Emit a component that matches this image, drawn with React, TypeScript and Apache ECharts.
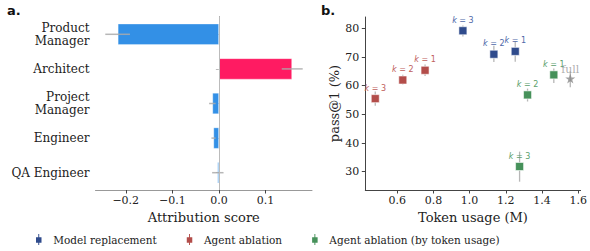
import React, { useEffect, useRef } from "react";
import * as echarts from "echarts";

// Panel a: attribution scores
const roles = ["Product\nManager", "Architect", "Project\nManager", "Engineer", "QA Engineer"];
const attribution = [-0.217, 0.157, -0.0138, -0.0116, -0.003];
const attributionErrLo = [-0.244, 0.135, -0.021, -0.016, -0.0145];
const attributionErrHi = [-0.191, 0.18, -0.007, -0.007, 0.01];
const attrTicks = [-0.2, -0.1, 0.0, 0.1];

// Panel b: pass@1 vs token usage
const modelRepK = ["3", "2", "1"];
const modelRepTokens = [0.963, 1.134, 1.252];
const modelRepPass = [79.2, 71.0, 72.0];
const modelRepLo = [77.2, 68.3, 68.4];
const modelRepHi = [81.0, 74.0, 75.5];

const ablK = ["3", "2", "1"];
const ablTokens = [0.479, 0.631, 0.754];
const ablPass = [55.5, 62.0, 65.4];
const ablLo = [53.0, 60.4, 63.4];
const ablHi = [58.0, 63.8, 67.4];

const ablTokK = ["3", "2", "1"];
const ablTokTokens = [1.276, 1.32, 1.465];
const ablTokPass = [31.8, 56.8, 63.8];
const ablTokLo = [26.5, 54.5, 61.0];
const ablTokHi = [37.0, 59.0, 66.0];

const fullTokens = [1.556];
const fullPass = [62.5];
const fullLo = [59.5];
const fullHi = [65.0];

const tokenTicks = [0.6, 0.8, 1.0, 1.2, 1.4, 1.6];
const passTicks = [30, 40, 50, 60, 70, 80];

const SERIF = "'DejaVu Serif', 'Liberation Serif', serif";
const SANS = "'DejaVu Sans', sans-serif";
const AXIS = "#444";

const legendIcon = "path://M4.4,0H5.6V14H4.4Z M1.5,4H8.5V11H1.5Z";
const starPath =
  "path://M50,0 L61.8,35.1 L98.9,35.1 L68.8,57 L80.3,92.1 L50,70.4 L19.7,92.1 L31.2,57 L1.1,35.1 L38.2,35.1 Z";

export default function App() {
  const ref = useRef<HTMLDivElement>(null);
  useEffect(() => {
    if (!ref.current) return;
    const chart = echarts.init(ref.current, undefined, { renderer: "svg" });

    const errBarsH = roles.map((_, i) => [attributionErrLo[i], attributionErrHi[i], i]);
    const mkV = (xs: number[], lo: number[], hi: number[]) => xs.map((x, i) => [x, lo[i], hi[i]]);
    const errV = [
      ...mkV(modelRepTokens, modelRepLo, modelRepHi),
      ...mkV(ablTokens, ablLo, ablHi),
      ...mkV(ablTokTokens, ablTokLo, ablTokHi),
      ...mkV(fullTokens, fullLo, fullHi),
    ];

    const scatter = (
      name: string,
      xs: number[],
      ys: number[],
      ks: string[],
      color: string,
      labelColor: string
    ) => ({
      name,
      type: "scatter",
      xAxisIndex: 1,
      yAxisIndex: 1,
      symbol: "rect",
      symbolSize: 8,
      z: 5,
      itemStyle: { color, borderColor: "rgba(255,255,255,0.7)", borderWidth: 0.8, opacity: 1 },
      data: xs.map((x, i) => ({ value: [x, ys[i]], k: ks[i] })),
      label: {
        show: true,
        position: "top",
        distance: 2,
        formatter: (p: any) => "{k|k} = " + p.data.k,
        color: labelColor,
        fontFamily: SANS,
        fontSize: 8,
        rich: { k: { fontStyle: "italic", fontFamily: SANS, fontSize: 8, color: labelColor } },
      },
    });

    chart.setOption({
      animation: false,
      textStyle: { fontFamily: SERIF },
      graphic: [
        { type: "text", left: 7, top: 4, style: { text: "a.", fontFamily: SANS, fontWeight: "bold", fontSize: 13, fill: "#111" } },
        { type: "text", left: 321, top: 4, style: { text: "b.", fontFamily: SANS, fontWeight: "bold", fontSize: 13, fill: "#111" } },
      ],
      legend: {
        left: 31,
        top: 229,
        icon: legendIcon,
        itemWidth: 7,
        itemHeight: 11,
        itemGap: 30,
        itemStyle: { borderWidth: 0, opacity: 1 },
        data: ["Model replacement", "Agent ablation", "Agent ablation (by token usage)"],
        textStyle: { fontFamily: SERIF, fontSize: 10.5, color: "#222", padding: [0, 0, 0, 6] },
      },
      grid: [
        { left: 95.5, top: 17, width: 216.5, height: 173 },
        { left: 365.3, top: 17, width: 215.7, height: 173 },
      ],
      xAxis: [
        {
          type: "value",
          gridIndex: 0,
          min: -0.265,
          max: 0.2,
          splitLine: { show: false },
          axisLine: { show: true, lineStyle: { color: "#999", width: 1 } },
          axisTick: { show: true, length: 3.5, lineStyle: { color: AXIS }, customValues: attrTicks },
          axisLabel: {
            customValues: attrTicks,
            margin: 5,
            fontFamily: SERIF,
            fontSize: 11,
            color: "#222",
            formatter: (v: number) => (v < 0 ? "\u2212" : "") + Math.abs(v).toFixed(1),
          },
          name: "Attribution score",
          nameLocation: "middle",
          nameGap: 19,
          nameTextStyle: { fontFamily: SERIF, fontSize: 13, color: "#222" },
        },
        {
          type: "value",
          gridIndex: 1,
          min: 0.424,
          max: 1.613,
          splitLine: { show: false },
          axisLine: { show: true, lineStyle: { color: AXIS, width: 1 } },
          axisTick: { show: true, length: 3.5, lineStyle: { color: AXIS }, customValues: tokenTicks },
          axisLabel: {
            customValues: tokenTicks,
            margin: 5,
            fontFamily: SERIF,
            fontSize: 11,
            color: "#222",
            formatter: (v: number) => v.toFixed(1),
          },
          name: "Token usage (M)",
          nameLocation: "middle",
          nameGap: 19,
          nameTextStyle: { fontFamily: SERIF, fontSize: 13, color: "#222" },
        },
      ],
      yAxis: [
        {
          type: "category",
          gridIndex: 0,
          data: roles,
          inverse: true,
          axisLine: { show: true, lineStyle: { color: AXIS, width: 1 } },
          axisTick: { show: true, alignWithLabel: true, length: 3, lineStyle: { color: "#bbb" } },
          axisLabel: { fontFamily: SERIF, fontSize: 12, color: "#222", margin: 6, lineHeight: 13, align: "right" },
        },
        {
          type: "value",
          gridIndex: 1,
          min: 23.6,
          max: 84,
          splitLine: { show: false },
          axisLine: { show: true, lineStyle: { color: AXIS, width: 1 } },
          axisTick: { show: true, length: 3.5, lineStyle: { color: AXIS }, customValues: passTicks },
          axisLabel: {
            customValues: passTicks,
            margin: 6,
            fontFamily: SERIF,
            fontSize: 11,
            color: "#222",
          },
          name: "pass@1 (%)",
          nameLocation: "middle",
          nameGap: 22,
          nameTextStyle: { fontFamily: SERIF, fontSize: 13, color: "#222" },
        },
      ],
      series: [
        {
          type: "bar",
          xAxisIndex: 0,
          yAxisIndex: 0,
          barWidth: "61%",
          data: attribution.map((v) => ({
            value: v,
            itemStyle: { color: v < 0 ? "#3390E6" : "#FF1B62" },
          })),
          itemStyle: { borderColor: "rgba(255,255,255,0.5)", borderWidth: 0.6 },
          markLine: {
            silent: true,
            symbol: "none",
            label: { show: false },
            lineStyle: { color: "#bbb", width: 1, type: "solid" },
            data: [{ xAxis: 0 }],
          },
          z: 2,
        },
        {
          type: "custom",
          xAxisIndex: 0,
          yAxisIndex: 0,
          z: 3,
          data: errBarsH,
          renderItem: (_params: any, api: any) => {
            const a = api.coord([api.value(0), api.value(2)]);
            const b = api.coord([api.value(1), api.value(2)]);
            return {
              type: "line",
              shape: { x1: a[0], y1: a[1], x2: b[0], y2: b[1] },
              style: { stroke: "rgba(170,170,170,0.85)", lineWidth: 1.5 },
            };
          },
        },
        {
          type: "custom",
          xAxisIndex: 1,
          yAxisIndex: 1,
          z: 3,
          data: errV,
          renderItem: (_params: any, api: any) => {
            const a = api.coord([api.value(0), api.value(1)]);
            const b = api.coord([api.value(0), api.value(2)]);
            return {
              type: "line",
              shape: { x1: a[0], y1: a[1], x2: b[0], y2: b[1] },
              style: { stroke: "rgba(170,170,170,0.85)", lineWidth: 1.3 },
            };
          },
        },
        scatter("Model replacement", modelRepTokens, modelRepPass, modelRepK, "#2F4B8C", "#4E68A8"),
        scatter("Agent ablation", ablTokens, ablPass, ablK, "#B34D4A", "#C0605C"),
        scatter("Agent ablation (by token usage)", ablTokTokens, ablTokPass, ablTokK, "#46915A", "#5BA06C"),
        {
          name: "full",
          type: "scatter",
          xAxisIndex: 1,
          yAxisIndex: 1,
          symbol: starPath,
          symbolSize: 10,
          z: 5,
          itemStyle: { color: "#888" },
          data: fullTokens.map((x, i) => [x, fullPass[i]]),
          label: {
            show: true,
            position: "top",
            distance: -1,
            formatter: "full",
            fontFamily: SERIF,
            fontSize: 11,
            color: "#999",
          },
        },
      ],
    });
    return () => chart.dispose();
  }, []);
  return (
    <div
      ref={ref}
      style={{ position: "fixed", left: 0, top: 0, width: 590, height: 251, background: "#fff" }}
    />
  );
}
